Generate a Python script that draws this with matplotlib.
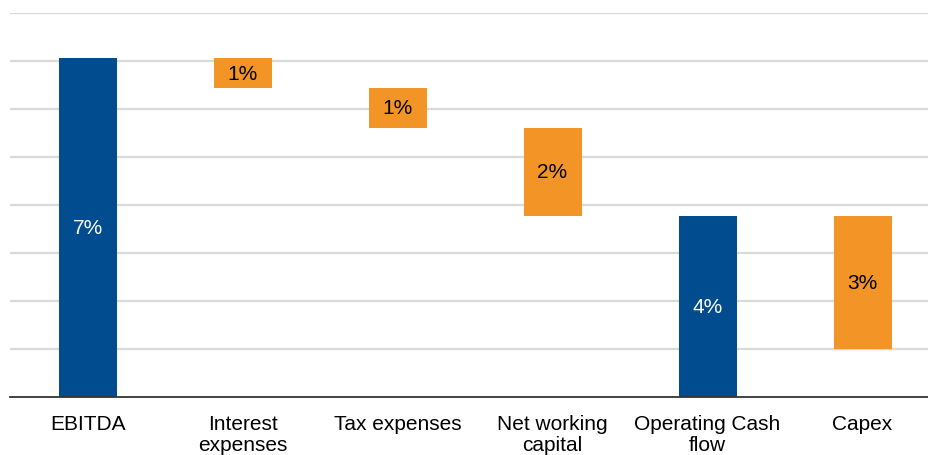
import numpy as np
import matplotlib
matplotlib.use("Agg")
import matplotlib.pyplot as plt

plt.rcParams['font.family'] = ['Liberation Sans', 'DejaVu Sans']

# 데이터 (% of revenue)
categories = ["EBITDA", "Interest\nexpenses", "Tax expenses", "Net working\ncapital",
              "Operating Cash\nflow", "Capex"]
ebitda = 7.06
deductions = [0.62, 0.83, 1.84]   # interest, tax, nwc
capex = 2.77

ocf = ebitda - sum(deductions)

# 막대 위치 계산 (waterfall)
heights = [ebitda] + deductions + [ocf, capex]
bottoms = [0]
level = ebitda
for d in deductions:
    level -= d
    bottoms.append(level)
bottoms += [0, ocf - capex]

blue = "#004C8F"
orange = "#F39427"
colors = [blue, orange, orange, orange, blue, orange]
text_colors = ["white", "black", "black", "black", "white", "black"]

W, H = 929, 456
fig = plt.figure(figsize=(W / 100, H / 100), dpi=100)
ax = fig.add_axes([10 / W, 58 / H, 919 / W, 384 / H])

x = np.arange(len(categories))
ax.bar(x, heights, bottom=bottoms, width=58 / 155, color=colors, zorder=3)

for xi, h, b, tc in zip(x, heights, bottoms, text_colors):
    ax.text(xi, b + h / 2, f"{h:.0f}%", ha="center", va="center",
            color=tc, fontsize=15, zorder=4)

ax.set_xlim(-0.5, -0.5 + 919 / 155)
ax.set_ylim(0, 8)
ax.set_yticks(np.arange(1, 9))
ax.yaxis.grid(True, color="#D9D9D9", linewidth=1.6)
ax.set_axisbelow(True)
ax.tick_params(axis="y", left=False, labelleft=False)
ax.tick_params(axis="x", bottom=False, pad=9)
ax.set_xticks(x)
ax.set_xticklabels(categories, fontsize=15, linespacing=1.1)

for s in ["top", "right", "left"]:
    ax.spines[s].set_visible(False)
ax.spines["bottom"].set_color("#333333")
ax.spines["bottom"].set_linewidth(1.3)
ax.spines["bottom"].set_zorder(5)

fig.savefig("out.png", dpi=100)
